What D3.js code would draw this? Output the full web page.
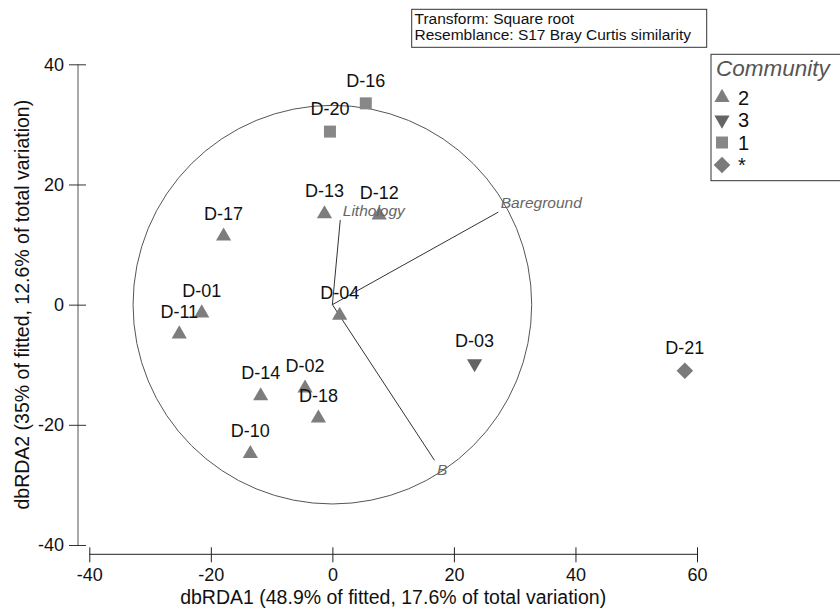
<!DOCTYPE html>
<html>
<head>
<meta charset="utf-8">
<script src="https://cdn.jsdelivr.net/npm/d3@7"></script>
<style>
  html, body { margin: 0; padding: 0; background: #fff; }
  svg { display: block; font-family: "Liberation Sans", Arial, sans-serif; }
</style>
</head>
<body>
<svg id="chart" width="840" height="612"></svg>
<script>
// Sample scores on the first two dbRDA axes
const sites = ["D-20", "D-16", "D-13", "D-12", "D-17", "D-01", "D-11", "D-04", "D-03", "D-14", "D-02", "D-18", "D-10", "D-21"];
const dbRDA1 = [-0.4, 5.5, -1.3, 7.7, -17.9, -21.5, -25.2, 1.2, 23.4, -11.8, -4.5, -2.3, -13.5, 58.0];
const dbRDA2 = [28.8, 33.5, 15.1, 14.9, 11.4, -1.4, -4.9, -1.8, -9.8, -15.2, -13.9, -18.9, -24.8, -11.0];
const community = ["1", "1", "2", "2", "2", "2", "2", "2", "3", "2", "2", "2", "2", "*"];

// Predictor vectors (overlay)
const vectorNames = ["Lithology", "Bareground", "B"];
const vectorX = [1.3, 27.3, 16.8];
const vectorY = [14.1, 15.4, -25.9];
const circleRadius = 32.8;

// Axis ticks and legend
const xTicks = [-40, -20, 0, 20, 40, 60];
const yTicks = [-40, -20, 0, 20, 40];
const legendGroups = ["2", "3", "1", "*"];
const infoLines = ["Transform: Square root", "Resemblance: S17 Bray Curtis similarity"];

const svg = d3.select("#chart");

const x = d3.scaleLinear().domain([-40, 60]).range([89.3, 697]);
const y = d3.scaleLinear().domain([-40, 40]).range([545, 64.3]);

// Symbol styles per community
const symbolStyle = {
  "2": { type: d3.symbolTriangle, size: 100, rotate: 0, fill: "#7d7d7d" },
  "3": { type: d3.symbolTriangle, size: 100, rotate: 180, fill: "#646464" },
  "1": { type: d3.symbolSquare, size: 144, rotate: 0, fill: "#878787" },
  "*": { type: d3.symbolSquare, size: 138, rotate: 45, fill: "#7a7a7a" }
};
const symbolPath = g => d3.symbol().type(symbolStyle[g].type).size(symbolStyle[g].size)();
const plainNumber = d => String(d);

// Y axis (ticks cross the axis line)
const yAxis = svg.append("g")
  .attr("transform", "translate(78,0)")
  .call(d3.axisLeft(y).tickValues(yTicks).tickSize(9).tickPadding(5).tickFormat(plainNumber));
yAxis.select(".domain").attr("stroke", "#555").attr("d", `M0,${y(40)}V${y(-40)}`);
yAxis.selectAll(".tick line").attr("x1", 8).attr("stroke", "#333");
yAxis.selectAll(".tick text").attr("font-size", 18).attr("fill", "#111")
  .attr("font-family", "'Liberation Sans', Arial, sans-serif");

// X axis
const xAxis = svg.append("g")
  .attr("transform", "translate(0,554.3)")
  .call(d3.axisBottom(x).tickValues(xTicks).tickSize(8).tickPadding(6).tickFormat(plainNumber));
xAxis.select(".domain").attr("stroke", "#222").attr("d", `M${x(-40)},0H${x(60)}`);
xAxis.selectAll(".tick line").attr("y1", -7).attr("stroke", "#222");
xAxis.selectAll(".tick text").attr("font-size", 18).attr("fill", "#111")
  .attr("font-family", "'Liberation Sans', Arial, sans-serif");

// Axis titles
svg.append("text")
  .attr("x", (x(-40) + x(60)) / 2).attr("y", 604)
  .attr("text-anchor", "middle").attr("font-size", 19.5).attr("fill", "#111")
  .text("dbRDA1 (48.9% of fitted, 17.6% of total variation)");
svg.append("text")
  .attr("transform", `translate(29,${(y(40) + y(-40)) / 2}) rotate(-90)`)
  .attr("text-anchor", "middle").attr("font-size", 19.5).attr("fill", "#111")
  .text("dbRDA2 (35% of fitted, 12.6% of total variation)");

// Correlation circle
svg.append("circle")
  .attr("cx", x(0)).attr("cy", y(0))
  .attr("r", x(circleRadius) - x(0))
  .attr("fill", "none").attr("stroke", "#555").attr("stroke-width", 1);

// Vectors
const vecs = vectorNames.map((n, i) => ({ name: n, vx: vectorX[i], vy: vectorY[i] }));
svg.append("g").selectAll("line").data(vecs).join("line")
  .attr("x1", x(0)).attr("y1", y(0))
  .attr("x2", d => x(d.vx)).attr("y2", d => y(d.vy))
  .attr("stroke", "#333").attr("stroke-width", 1);

// Samples
const pts = sites.map((s, i) => ({ site: s, px: dbRDA1[i], py: dbRDA2[i], g: community[i] }));
svg.append("g").selectAll("path").data(pts).join("path")
  .attr("d", d => symbolPath(d.g))
  .attr("transform", d => `translate(${x(d.px)},${y(d.py)}) rotate(${symbolStyle[d.g].rotate})`)
  .attr("fill", d => symbolStyle[d.g].fill);

// Vector labels, placed just beyond each vector tip
svg.append("g").selectAll("text").data(vecs).join("text")
  .attr("x", d => x(d.vx) + 2.5)
  .attr("y", d => d.vy >= 0 ? y(d.vy) - 4 : y(d.vy) + 15)
  .attr("font-size", 15.5).attr("font-style", "italic").attr("fill", "#666")
  .text(d => d.name);

// Sample labels
svg.append("g").selectAll("text").data(pts).join("text")
  .attr("x", d => x(d.px))
  .attr("y", d => y(d.py) - 16.5)
  .attr("text-anchor", "middle").attr("font-size", 18).attr("fill", "#111")
  .text(d => d.site);

// Info box
const info = svg.append("g");
info.append("rect")
  .attr("x", 411.7).attr("y", 9.3).attr("width", 295).attr("height", 38)
  .attr("fill", "#fff").attr("stroke", "#333").attr("stroke-width", 1);
info.selectAll("text").data(infoLines).join("text")
  .attr("x", 414.5).attr("y", (d, i) => 23.5 + i * 16)
  .attr("font-size", 15.5).attr("fill", "#111")
  .text(d => d);

// Legend
const legend = svg.append("g");
legend.append("rect")
  .attr("x", 711).attr("y", 54.3).attr("width", 160).attr("height", 126.4)
  .attr("fill", "#fff").attr("stroke", "#333").attr("stroke-width", 1);
legend.append("text")
  .attr("x", 716).attr("y", 76)
  .attr("font-size", 22.5).attr("font-style", "italic").attr("fill", "#555")
  .text("Community");
const rows = legend.selectAll("g.row").data(legendGroups).join("g")
  .attr("class", "row")
  .attr("transform", (d, i) => `translate(722,${97.5 + i * 22.5})`);
rows.append("path")
  .attr("d", d => symbolPath(d))
  .attr("transform", d => `rotate(${symbolStyle[d].rotate})`)
  .attr("fill", d => symbolStyle[d].fill);
rows.append("text")
  .attr("x", 16).attr("y", 7)
  .attr("font-size", 20).attr("fill", "#111")
  .text(d => d);
</script>
</body>
</html>
